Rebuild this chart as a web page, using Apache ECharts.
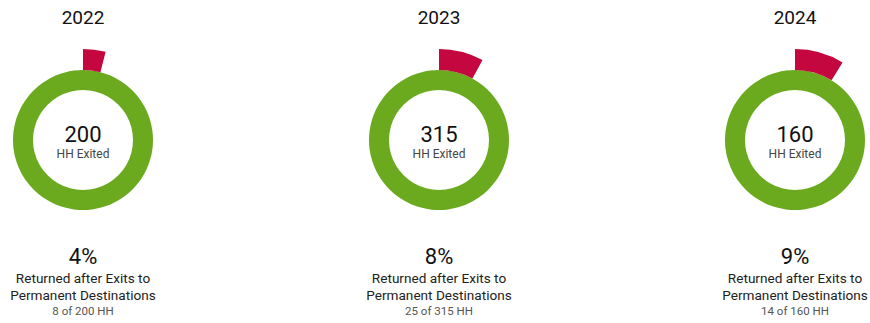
<!DOCTYPE html>
<html>
<head>
<meta charset="utf-8">
<script src="https://cdn.jsdelivr.net/npm/echarts@6/dist/echarts.min.js"></script>
<style>
  html, body { margin: 0; padding: 0; background: #fff; }
  #chart { width: 870px; height: 323px; }
</style>
</head>
<body>
<div id="chart"></div>
<script>
// Households exited and returned, by year
const years = ['2022', '2023', '2024'];
const exited = [200, 315, 160];
const returned = [8, 25, 14];
const percentLabels = ['4%', '8%', '9%'];

const GREEN = '#6BAA1E';
const RED = '#C4073F';
const FONT = 'Roboto, "Noto Sans", sans-serif';

const chart = echarts.init(document.getElementById('chart'), null, { renderer: 'svg' });

const centersX = [83, 439, 795];
const centerY = 140;

const series = [];
const graphics = [];

years.forEach((yr, i) => {
  const cx = centersX[i];
  // full ring: all households exited
  series.push({
    type: 'pie',
    center: [cx, centerY],
    radius: [50, 70],
    silent: true,
    label: { show: false },
    labelLine: { show: false },
    startAngle: 90,
    data: [{ value: exited[i], itemStyle: { color: GREEN } }]
  });
  // outer arc: share that returned
  series.push({
    type: 'pie',
    center: [cx, centerY],
    radius: [70, 91],
    silent: true,
    clockwise: true,
    startAngle: 90,
    label: { show: false },
    labelLine: { show: false },
    data: [
      { value: returned[i], itemStyle: { color: RED } },
      { value: exited[i] - returned[i], itemStyle: { color: 'rgba(0,0,0,0)' } }
    ]
  });

  const txt = (y, text, size, color) => ({
    type: 'text',
    x: cx, y: y,
    style: {
      text: text,
      fontFamily: FONT,
      fontSize: size,
      fill: color,
      align: 'center',
      verticalAlign: 'middle'
    }
  });

  graphics.push(txt(17, yr, 19, '#111'));
  graphics.push(txt(134, String(exited[i]), 22, '#111'));
  graphics.push(txt(154, 'HH Exited', 12, '#444'));
  graphics.push(txt(256, percentLabels[i], 22, '#111'));
  graphics.push(txt(278, 'Returned after Exits to', 13.6, '#222'));
  graphics.push(txt(295, 'Permanent Destinations', 13.6, '#222'));
  graphics.push(txt(311, returned[i] + ' of ' + exited[i] + ' HH', 11.5, '#555'));
});

chart.setOption({
  animation: false,
  backgroundColor: '#fff',
  series: series,
  graphic: graphics
});
</script>
</body>
</html>
